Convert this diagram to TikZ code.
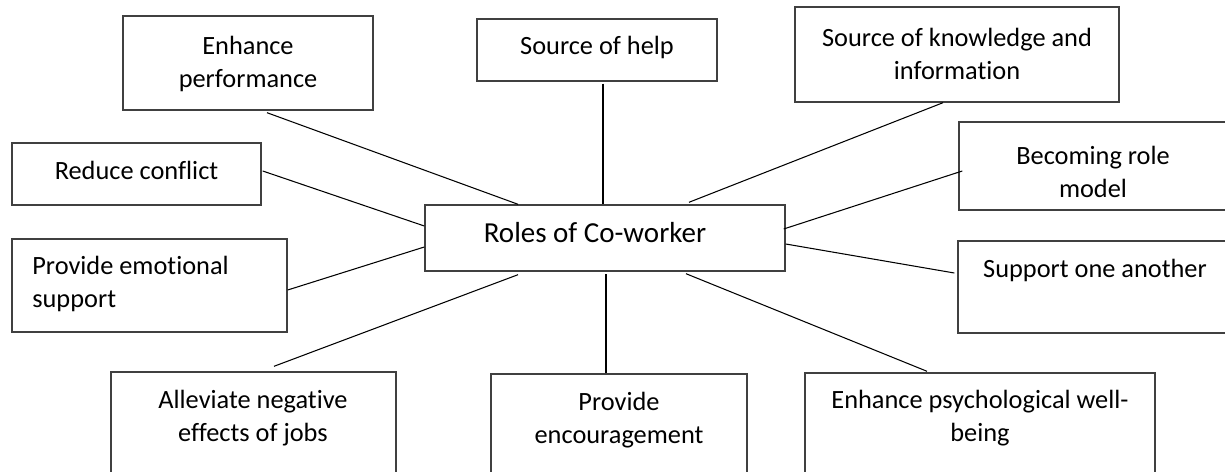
\documentclass[tikz,border=0pt]{standalone}
\usepackage{fontspec}
\setmainfont{Carlito}[Ligatures=NoCommon]
\usetikzlibrary{calc}
\begin{document}
\begin{tikzpicture}[x=0.02cm,y=-0.02cm,
	box/.style={draw=black!75,line width=0.8pt,rectangle,inner sep=0pt},
	boxsize/.style args={#1x#2}{minimum width=#1*0.02cm,minimum height=#2*0.02cm},
	txt/.style={inner sep=0pt,align=center,font=\fontsize{15}{19.3}\selectfont},
	link/.style={line width=0.6pt}]
\useasboundingbox (0,0) rectangle (1225,472);
\clip (0,0) rectangle (1225,472);
% boxes (right and bottom ones run off the page)
\node[box,boxsize=250x94] (perf) at (248,63) {};
\node[box,boxsize=240x62] (help) at (597,50) {};
\node[box,boxsize=324x95] (know) at (957,54.5) {};
\node[box,boxsize=249x62] (conf) at (136.5,174) {};
\node[box,boxsize=360x66] (roles) at (605,238) {};
\node[box,boxsize=276x88] (model) at (1097,166) {};
\node[box,boxsize=275x93] (emo) at (149.5,285.5) {};
\node[box,boxsize=277x92] (supp) at (1096.5,287) {};
\node[box,boxsize=285x118] (alle) at (253.5,431) {};
\node[box,boxsize=256x116] (enc) at (619,432) {};
\node[box,boxsize=350x117] (psy) at (980,431.5) {};
% texts (base = last line)
\node[txt,anchor=base] (perftxt) at (248,88) {Enhance\\performance};
\node[txt,anchor=base] (helptxt) at (597,55) {Source of help};
\node[txt,anchor=base] (knowtxt) at (957,80) {Source of knowledge and\\information};
\node[txt,anchor=base] (conftxt) at (136.5,180) {Reduce conflict};
\node[txt,anchor=base,font=\fontsize{16.5}{20}\selectfont] (rolestxt) at (595,243) {Roles of Co-worker};
\node[txt,anchor=base] (modeltxt) at (1093,198) {Becoming role\\model};
\node[txt,anchor=base west,align=left] (emotxt) at (32,308) {Provide emotional\\support};
\node[txt,anchor=base] (supptxt) at (1095,278) {Support one another};
\node[txt,anchor=base] (alletxt) at (253,442) {Alleviate negative\\effects of jobs};
\node[txt,anchor=base] (enctxt) at (619,444) {Provide\\encouragement};
\node[txt,anchor=base] (psytxt) at (980,442) {Enhance psychological well-\\being};
% spokes
\draw[link] ($(perf.south)+(19,2)$) -- ($(roles.north)+(-87,0)$);
\draw[link] ($(help.south)+(6,2)$) -- ($(roles.north)+(-2,0)$);
\draw[link] ($(know.south)+(-14,0)$) -- ($(roles.north)+(84,-2)$);
\draw[link] ($(conf.east)+(1,-3)$) -- ($(roles.west)+(0,-12)$);
\draw[link] ($(model.west)+(4,5)$) -- ($(roles.east)+(-2,-9)$);
\draw[link] ($(emo.east)+(0,4.5)$) -- ($(roles.west)+(0,9)$);
\draw[link] ($(supp.west)+(-3,-14)$) -- ($(roles.east)+(0,6)$);
\draw[link] ($(alle.north)+(20.5,-5)$) -- ($(roles.south)+(-87,3)$);
\draw[link] ($(enc.north)+(-13,0)$) -- ($(roles.south)+(1,2)$);
\draw[link] ($(psy.north)+(-53,-1)$) -- ($(roles.south)+(81,2)$);
\end{tikzpicture}
\end{document}
